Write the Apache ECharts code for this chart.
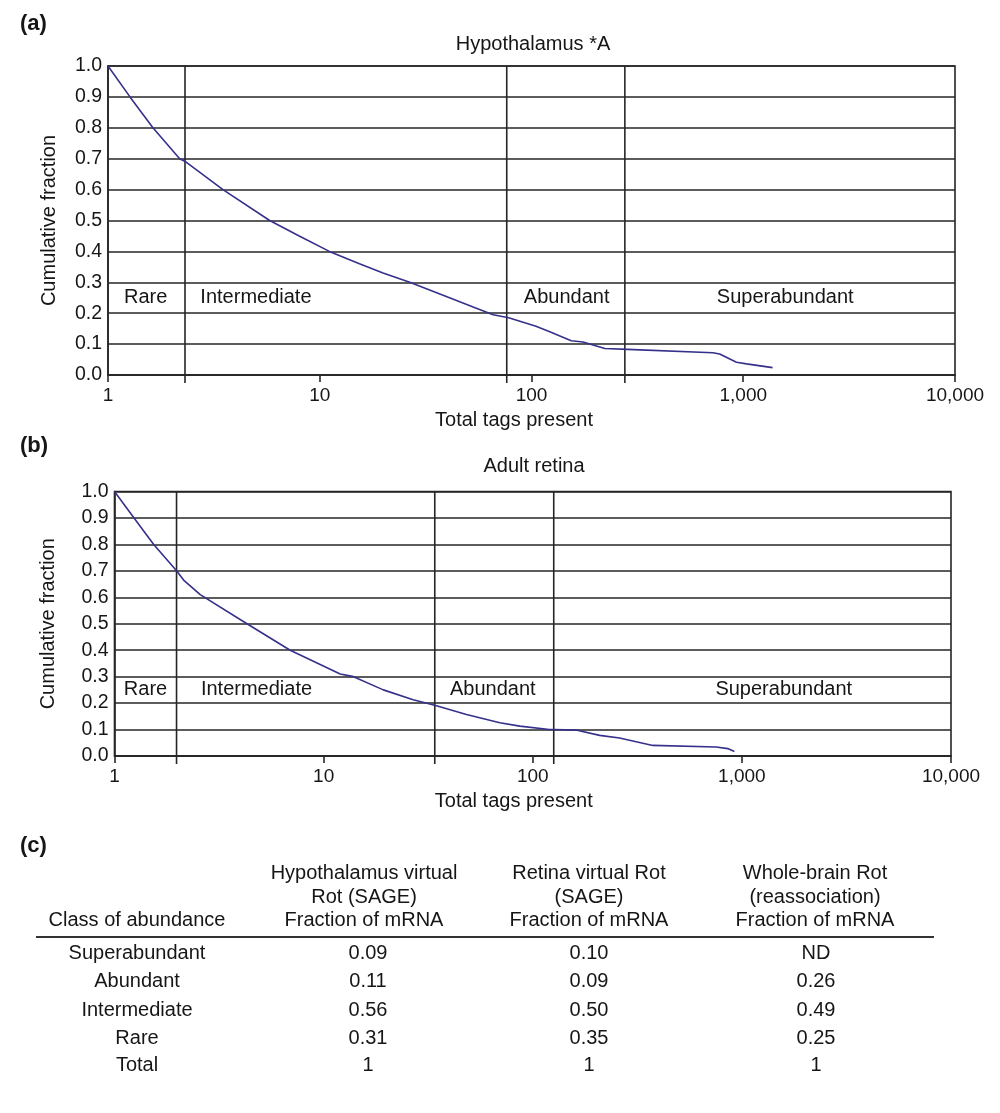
<!DOCTYPE html>
<html>
<head>
<meta charset="utf-8">
<script src="https://cdn.jsdelivr.net/npm/echarts@6/dist/echarts.min.js"></script>
<style>
html,body{margin:0;padding:0;background:#fff;}
#chart{width:1000px;height:1113px;}
</style>
</head>
<body>
<div id="chart"></div>
<script>
// ---------- data ----------
var xTickValues = [1, 10, 100, 1000, 10000];
var xTickLabels = ['1', '10', '100', '1,000', '10,000'];
var regionNames = ['Rare', 'Intermediate', 'Abundant', 'Superabundant'];

// (a) Hypothalamus *A
var hypoTags = [1, 1.27, 1.63, 2.18, 2.33, 3.49, 5.8, 8.0, 11.1, 15.4, 19.9, 26.6, 41, 53, 65.9, 78, 105, 122, 154, 175, 222, 284, 719, 774, 929, 1037, 1375];
var hypoFrac = [1.0, 0.90, 0.80, 0.70, 0.69, 0.60, 0.50, 0.45, 0.40, 0.36, 0.33, 0.30, 0.25, 0.22, 0.195, 0.185, 0.158, 0.14, 0.111, 0.107, 0.086, 0.083, 0.072, 0.068, 0.041, 0.036, 0.024];
var hypoBounds = [2.31, 76.4, 276];
var hypoRegionLabelAt = [1.19, 2.73, 92, 750];

// (b) Adult retina
var retinaTags = [1, 1.24, 1.54, 1.98, 2.14, 2.57, 4.3, 6.92, 12.0, 13.9, 19.3, 26.8, 34, 48.2, 69.6, 86.7, 120, 126, 161, 209, 260, 375, 753, 856, 921];
var retinaFrac = [1.0, 0.90, 0.80, 0.70, 0.665, 0.61, 0.50, 0.40, 0.31, 0.30, 0.25, 0.213, 0.192, 0.157, 0.126, 0.113, 0.10, 0.10, 0.098, 0.078, 0.068, 0.040, 0.034, 0.028, 0.017];
var retinaBounds = [1.98, 34, 126];
var retinaRegionLabelAt = [1.108, 2.59, 40.2, 747];

// (c) table
var tableHeaders = [
  ['Class of abundance'],
  ['Hypothalamus virtual', 'Rot (SAGE)', 'Fraction of mRNA'],
  ['Retina virtual Rot', '(SAGE)', 'Fraction of mRNA'],
  ['Whole-brain Rot', '(reassociation)', 'Fraction of mRNA']
];
var abundanceClasses = ['Superabundant', 'Abundant', 'Intermediate', 'Rare', 'Total'];
var hypoFractionCol = ['0.09', '0.11', '0.56', '0.31', '1'];
var retinaFractionCol = ['0.10', '0.09', '0.50', '0.35', '1'];
var wholeBrainCol = ['ND', '0.26', '0.49', '0.25', '1'];

// ---------- build ----------
var FONT = '"Liberation Sans", Arial, Helvetica, sans-serif';
var TXT = '#161616';
var GRIDC = '#262626';
var LINEC = '#35318a';

function zip(a, b) { return a.map(function (v, i) { return [v, b[i]]; }); }
function tickLabel(v) {
  for (var i = 0; i < xTickValues.length; i++) {
    if (Math.abs(Math.log10(v) - Math.log10(xTickValues[i])) < 1e-6) return xTickLabels[i];
  }
  return '';
}

var grids = [
  { left: 108, right: 45, top: 66, height: 309, show: true, borderColor: GRIDC, borderWidth: 1.6 },
  { left: 114.5, right: 49, top: 491.5, height: 264.5, show: true, borderColor: GRIDC, borderWidth: 1.6 }
];
var namePad = [35, 38];
var yNameGap = [49, 56];

var xAxes = [0, 1].map(function (i) {
  return {
    type: 'log', logBase: 10, min: 1, max: 10000, gridIndex: i,
    name: 'Total tags present', nameLocation: 'middle', nameGap: 35,
    nameTextStyle: { fontFamily: FONT, fontSize: 20, color: TXT, padding: [0, namePad[i], 0, 0] },
    axisLine: { show: true, lineStyle: { color: GRIDC, width: 1.6 } },
    axisTick: { show: true, inside: false, length: 7, lineStyle: { color: GRIDC, width: 1.6 } },
    minorTick: { show: false },
    splitLine: { show: false },
    axisLabel: { fontFamily: FONT, fontSize: 19, color: TXT, margin: 11, formatter: tickLabel }
  };
});
var yAxes = [0, 1].map(function (i) {
  return {
    type: 'value', min: 0, max: 1, interval: 0.1, gridIndex: i,
    name: 'Cumulative fraction', nameLocation: 'middle', nameGap: yNameGap[i], nameRotate: 90,
    nameTextStyle: { fontFamily: FONT, fontSize: 20, color: TXT },
    axisLine: { show: true, lineStyle: { color: GRIDC, width: 1.6 } },
    axisTick: { show: false },
    splitLine: { show: true, lineStyle: { color: GRIDC, width: 1.6 } },
    axisLabel: { fontFamily: FONT, fontSize: 19.5, color: TXT, margin: 6, formatter: function (v) { return v.toFixed(1); } }
  };
});

var series = [];
function addPanel(idx, tags, frac, bounds, labelAt, extend) {
  bounds.forEach(function (b) {
    series.push({
      type: 'line', xAxisIndex: idx, yAxisIndex: idx, clip: false, silent: true,
      showSymbol: false, symbol: 'none',
      data: [[b, -extend], [b, 1]],
      lineStyle: { color: GRIDC, width: 1.6 }, z: 1
    });
  });
  series.push({
    type: 'line', xAxisIndex: idx, yAxisIndex: idx, showSymbol: false, symbol: 'none',
    data: zip(tags, frac), lineStyle: { color: LINEC, width: 1.6 }, z: 3
  });
  series.push({
    type: 'scatter', xAxisIndex: idx, yAxisIndex: idx, symbolSize: 0, silent: true,
    itemStyle: { color: TXT, opacity: 1 },
    data: labelAt.map(function (x, i) { return { value: [x, 0.25], name: regionNames[i] }; }),
    label: { show: true, position: 'right', distance: 0, formatter: '{b}', fontFamily: FONT, fontSize: 20,
      color: TXT, opacity: 1, textBorderWidth: 0, verticalAlign: 'middle' },
    z: 4
  });
}
addPanel(0, hypoTags, hypoFrac, hypoBounds, hypoRegionLabelAt, 0.026);
addPanel(1, retinaTags, retinaFrac, retinaBounds, retinaRegionLabelAt, 0.03);

// graphic texts
var graphics = [];
function txt(x, y, s, opts) {
  var st = { x: x, y: y, text: s, fontFamily: FONT, fontSize: 20, fill: TXT, align: 'center', verticalAlign: 'middle' };
  for (var k in (opts || {})) st[k] = opts[k];
  graphics.push({ type: 'text', style: st, silent: true });
}
txt(20, 24, '(a)', { align: 'left', fontWeight: 'bold', fontSize: 22 });
txt(533, 44, 'Hypothalamus *A');
txt(20, 446, '(b)', { align: 'left', fontWeight: 'bold', fontSize: 22 });
txt(534, 466, 'Adult retina');
txt(20, 846, '(c)', { align: 'left', fontWeight: 'bold', fontSize: 22 });

var colX = [137, 364, 589, 815];
var headerY = [873, 897, 920.5];
tableHeaders.forEach(function (lines, c) {
  var off = headerY.length - lines.length;
  lines.forEach(function (s, j) { txt(colX[c], headerY[off + j], s); });
});
graphics.push({ type: 'line', silent: true, shape: { x1: 36, y1: 937, x2: 934, y2: 937 }, style: { stroke: '#333', lineWidth: 2 } });
var rowY = [953, 981.5, 1010, 1038, 1065.5];
var valX = [137, 368, 589, 816];
[abundanceClasses, hypoFractionCol, retinaFractionCol, wholeBrainCol].forEach(function (col, c) {
  col.forEach(function (s, r) { txt(valX[c], rowY[r], s); });
});

var chart = echarts.init(document.getElementById('chart'), null, { renderer: 'canvas' });
chart.setOption({
  animation: false,
  backgroundColor: '#fff',
  grid: grids,
  xAxis: xAxes,
  yAxis: yAxes,
  series: series,
  graphic: graphics
});
</script>
</body>
</html>
